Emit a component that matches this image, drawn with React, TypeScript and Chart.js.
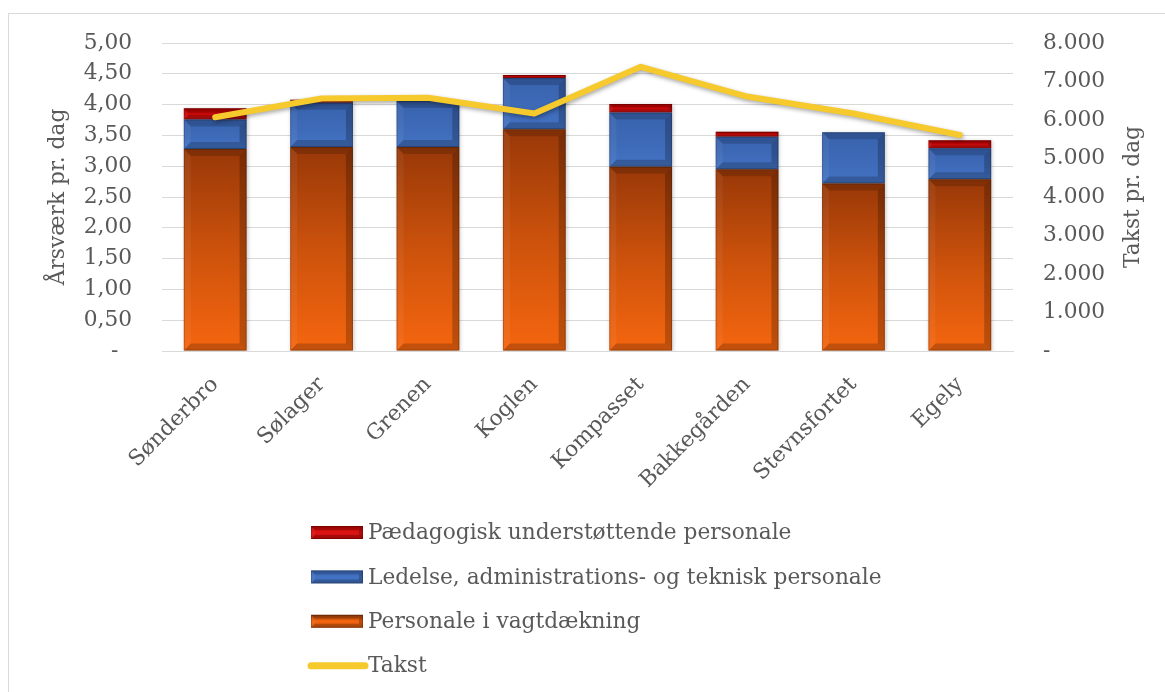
import React, { useEffect, useRef } from 'react';
import { Chart, registerables } from 'chart.js';

Chart.register(...registerables);

const categories = ['Sønderbro', 'Sølager', 'Grenen', 'Koglen', 'Kompasset', 'Bakkegården', 'Stevnsfortet', 'Egely'];
const personale = [3.28, 3.31, 3.31, 3.60, 2.99, 2.95, 2.72, 2.79];
const ledelse = [0.48, 0.72, 0.75, 0.83, 0.88, 0.53, 0.83, 0.50];
const paedagogisk = [0.18, 0.05, 0, 0.05, 0.14, 0.08, 0, 0.13];
const takst = [6070, 6560, 6580, 6170, 7380, 6610, 6170, 5610];

const labelPaed = 'Pædagogisk understøttende personale';
const labelLedelse = 'Ledelse, administrations- og teknisk personale';
const labelPersonale = 'Personale i vagtdækning';
const labelTakst = 'Takst';
const leftTitle = 'Årsværk pr. dag';
const rightTitle = 'Takst pr. dag';

const FONT = "'DejaVu Serif', serif";
const FS = 21.7;
const TEXT = '#595959';

const orangeStops = ['#983808', '#cc520c', '#f5660f'];
const blueStops = ['#3862ad', '#3d69b6', '#4373c4'];
const redStops = ['#b00000', '#c80808', '#dc1414'];
const yellow = '#f6c92c';
const CLEAR = 'rgba(0,0,0,0)';

const lower1 = personale.map(() => 0);
const upper1 = personale.map((v) => v);
const lower2 = upper1;
const upper2 = personale.map((v, i) => v + ledelse[i]);
const lower3 = upper2;
const upper3 = upper2.map((v, i) => v + paedagogisk[i]);

function segGradient(stops: string[], lower: number[], upper: number[]) {
  return (c: any) => {
    const chart = c.chart;
    if (c.type !== 'data' || !chart.chartArea || !chart.scales.y) return stops[1];
    const y = chart.scales.y;
    const i = c.dataIndex;
    const t = y.getPixelForValue(upper[i]);
    const b = y.getPixelForValue(lower[i]);
    if (!isFinite(t) || !isFinite(b) || Math.abs(b - t) < 0.5) return stops[1];
    const g = chart.ctx.createLinearGradient(0, t, 0, b);
    g.addColorStop(0, stops[0]);
    g.addColorStop(0.5, stops[1]);
    g.addColorStop(1, stops[2]);
    return g;
  };
}

function poly(ctx: CanvasRenderingContext2D, pts: number[]) {
  ctx.beginPath();
  ctx.moveTo(pts[0], pts[1]);
  for (let i = 2; i < pts.length; i += 2) ctx.lineTo(pts[i], pts[i + 1]);
  ctx.closePath();
  ctx.fill();
}

function bevel(ctx: CanvasRenderingContext2D, l: number, t: number, r: number, b: number, size: number) {
  const h = b - t;
  const w = r - l;
  if (h < 1 || w < 1) return;
  const bs = Math.min(size, h / 2.5, w / 2.5);
  ctx.save();
  ctx.fillStyle = 'rgba(0,0,0,0.16)';
  poly(ctx, [l, t, r, t, r - bs, t + bs, l + bs, t + bs]);
  ctx.fillStyle = 'rgba(0,0,0,0.2)';
  poly(ctx, [l, b, r, b, r - bs, b - bs, l + bs, b - bs]);
  ctx.fillStyle = 'rgba(255,255,255,0.05)';
  poly(ctx, [l, t, l + bs, t + bs, l + bs, b - bs, l, b]);
  ctx.fillStyle = 'rgba(0,0,0,0.22)';
  poly(ctx, [r, t, r - bs, t + bs, r - bs, b - bs, r, b]);
  ctx.strokeStyle = 'rgba(0,0,0,0.2)';
  ctx.lineWidth = 1;
  ctx.strokeRect(l + 0.5, t + 0.5, w - 1, h - 1);
  ctx.restore();
}

const effects = {
  id: 'effects',
  beforeDatasetDraw(chart: any, args: any) {
    const ctx = chart.ctx;
    ctx.save();
    if (args.meta.type === 'line') {
      ctx.shadowColor = 'rgba(0,0,0,0.35)';
      ctx.shadowBlur = 4;
      ctx.shadowOffsetX = 1;
      ctx.shadowOffsetY = 2;
    } else {
      ctx.shadowColor = 'rgba(0,0,0,0.22)';
      ctx.shadowBlur = 4;
      ctx.shadowOffsetX = 1;
      ctx.shadowOffsetY = 1;
    }
  },
  afterDatasetDraw(chart: any, args: any) {
    const ctx = chart.ctx;
    ctx.restore();
    if (args.meta.type === 'bar') {
      args.meta.data.forEach((el: any) => {
        const { x, y, base, width } = el.getProps(['x', 'y', 'base', 'width'], true);
        const t = Math.min(y, base);
        const b = Math.max(y, base);
        bevel(ctx, x - width / 2, t, x + width / 2, b, 7);
      });
    }
  },
  afterDraw(chart: any) {
    const ctx = chart.ctx;
    const area = chart.chartArea;
    ctx.save();
    ctx.fillStyle = TEXT;
    ctx.font = `${FS}px ${FONT}`;
    ctx.textAlign = 'center';
    ctx.textBaseline = 'middle';
    ctx.translate(area.right + 120, (area.top + area.bottom) / 2);
    ctx.rotate(-Math.PI / 2);
    ctx.fillText(rightTitle, 0, 0);
    ctx.restore();

    const ds = chart.data.datasets;
    const items = [
      { label: ds[2].label, stops: redStops, line: false },
      { label: ds[1].label, stops: blueStops, line: false },
      { label: ds[0].label, stops: orangeStops, line: false },
      { label: ds[3].label, stops: [yellow], line: true },
    ];
    const boxL = 302;
    const boxW = 52;
    const boxH = 13;
    const textX = 359;
    const startY = 518.5;
    const gap = 44.4;
    ctx.save();
    ctx.font = `${FS}px ${FONT}`;
    ctx.textAlign = 'left';
    ctx.textBaseline = 'middle';
    items.forEach((it, k) => {
      const cy = startY + k * gap;
      if (it.line) {
        ctx.save();
        ctx.strokeStyle = yellow;
        ctx.lineWidth = 7;
        ctx.lineCap = 'round';
        ctx.beginPath();
        ctx.moveTo(boxL, cy);
        ctx.lineTo(boxL + 54, cy);
        ctx.stroke();
        ctx.restore();
      } else {
        const g = ctx.createLinearGradient(0, cy - boxH / 2, 0, cy + boxH / 2);
        g.addColorStop(0, it.stops[0]);
        g.addColorStop(0.5, it.stops[2]);
        g.addColorStop(1, it.stops[1]);
        ctx.fillStyle = g;
        ctx.fillRect(boxL, cy - boxH / 2, boxW, boxH);
        bevel(ctx, boxL, cy - boxH / 2, boxL + boxW, cy + boxH / 2, 4);
      }
      ctx.fillStyle = TEXT;
      ctx.fillText(it.label, textX, cy + 1);
    });
    ctx.restore();
  },
};

export default function App() {
  const ref = useRef<HTMLCanvasElement | null>(null);

  useEffect(() => {
    document.documentElement.style.overflow = 'hidden';
    document.body.style.overflow = 'hidden';
    const canvas = ref.current;
    if (!canvas) return;
    const chart = new Chart(canvas, {
      type: 'bar',
      data: {
        labels: categories,
        datasets: [
          {
            type: 'bar',
            label: labelPersonale,
            data: personale,
            backgroundColor: segGradient(orangeStops, lower1, upper1),
            borderWidth: 0,
            stack: 's',
            yAxisID: 'y',
            order: 1,
          },
          {
            type: 'bar',
            label: labelLedelse,
            data: ledelse,
            backgroundColor: segGradient(blueStops, lower2, upper2),
            borderWidth: 0,
            stack: 's',
            yAxisID: 'y',
            order: 1,
          },
          {
            type: 'bar',
            label: labelPaed,
            data: paedagogisk,
            backgroundColor: segGradient(redStops, lower3, upper3),
            borderWidth: 0,
            stack: 's',
            yAxisID: 'y',
            order: 1,
          },
          {
            type: 'line',
            label: labelTakst,
            data: takst,
            borderColor: yellow,
            backgroundColor: yellow,
            borderWidth: 6,
            pointRadius: 0,
            tension: 0,
            borderCapStyle: 'round',
            borderJoinStyle: 'round',
            yAxisID: 'y1',
            order: 0,
          } as any,
        ],
      },
      options: {
        animation: false,
        responsive: false,
        maintainAspectRatio: false,
        events: [],
        layout: { padding: { top: 29, left: 0, right: 0, bottom: 0 } },
        datasets: { bar: { barPercentage: 0.59, categoryPercentage: 1 } },
        plugins: {
          legend: { display: false },
          tooltip: { enabled: false },
          title: { display: false },
        },
        scales: {
          x: {
            stacked: true,
            offset: true,
            grid: { display: false, drawTicks: false },
            border: { display: true, color: '#d9d9d9', width: 1 },
            ticks: {
              color: TEXT,
              font: { family: FONT, size: FS },
              maxRotation: 45,
              minRotation: 45,
              padding: 21,
              autoSkip: false,
            },
            afterFit: (s: any) => {
              s.height = 342;
            },
          },
          y: {
            position: 'left',
            stacked: true,
            min: 0,
            max: 5,
            grid: { color: '#d9d9d9', lineWidth: 1, drawTicks: true, tickLength: 30, tickColor: CLEAR },
            border: { display: false },
            ticks: {
              stepSize: 0.5,
              color: TEXT,
              font: { family: FONT, size: FS },
              padding: 0,
              callback: (v: any) => (Number(v) === 0 ? '-  ' : Number(v).toFixed(2).replace('.', ',')),
            },
            title: {
              display: true,
              text: leftTitle,
              color: TEXT,
              font: { family: FONT, size: FS, lineHeight: 1.2 },
              padding: { top: 36, bottom: 0 },
            },
            afterFit: (s: any) => {
              s.width = 153;
            },
          },
          y1: {
            position: 'right',
            stacked: false,
            min: 0,
            max: 8000,
            grid: { display: true, drawOnChartArea: false, color: CLEAR, drawTicks: true, tickLength: 30, tickColor: CLEAR },
            border: { display: false },
            ticks: {
              stepSize: 1000,
              color: TEXT,
              font: { family: FONT, size: FS },
              padding: 0,
              callback: (v: any) =>
                Number(v) === 0 ? '-' : String(Math.round(Number(v))).replace(/\B(?=(\d{3})+(?!\d))/g, '.'),
            },
            afterFit: (s: any) => {
              s.width = 152;
            },
          },
        },
      },
      plugins: [effects],
    });
    return () => chart.destroy();
  }, []);

  return (
    <div
      style={{
        position: 'absolute',
        left: 8,
        top: 13,
        width: 1200,
        height: 720,
        borderTop: '1px solid #d9d9d9',
        borderLeft: '1px solid #d9d9d9',
        background: '#fff',
      }}
    >
      <canvas ref={ref} width={1156} height={679} style={{ display: 'block', width: 1156, height: 679 }} />
    </div>
  );
}
